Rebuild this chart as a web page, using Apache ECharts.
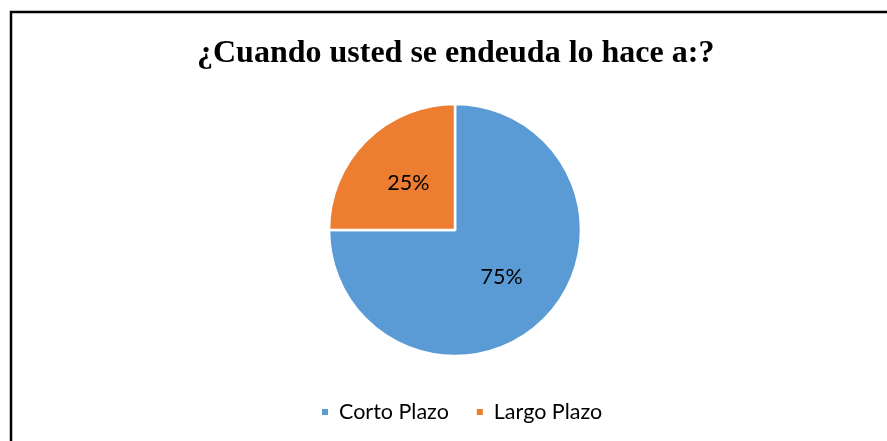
<!DOCTYPE html>
<html>
<head>
<meta charset="utf-8">
<script src="https://cdn.jsdelivr.net/npm/echarts@6/dist/echarts.min.js"></script>
<style>
html,body{margin:0;padding:0;background:#fff;}
#chart{width:887px;height:441px;}
</style>
</head>
<body>
<div id="chart"></div>
<script>
// datos
var categories = ['Corto Plazo', 'Largo Plazo'];
var values = [75, 25];
var colors = ['#5B9BD5', '#ED7D31'];

var pieData = categories.map(function (c, i) {
    return {name: c, value: values[i], itemStyle: {color: colors[i]}};
});

var myChart = echarts.init(document.getElementById('chart'));
var option = {
    backgroundColor: '#fff',
    animation: false,
    title: {
        text: '¿Cuando usted se endeuda lo hace a:?',
        left: 192,
        top: 33,
        textStyle: {
            fontFamily: 'Liberation Serif',
            fontWeight: 'bold',
            fontSize: 32,
            color: '#000'
        }
    },
    graphic: [{
        type: 'rect',
        shape: {x: 11, y: 12, width: 1200, height: 800},
        style: {fill: 'none', stroke: '#000', lineWidth: 2.5},
        silent: true
    }],
    legend: {
        top: 396,
        left: 315,
        itemWidth: 8,
        itemHeight: 8,
        itemGap: 26,
        icon: 'rect',
        data: categories,
        textStyle: {
            fontFamily: 'Lato',
            fontSize: 21.5,
            color: '#000',
            padding: [0, 0, 0, 5]
        }
    },
    series: [{
        type: 'pie',
        center: [455, 230],
        radius: [0, 126],
        startAngle: 90,
        clockwise: true,
        data: pieData,
        itemStyle: {borderColor: '#fff', borderWidth: 2.5},
        label: {
            position: 'inside',
            formatter: '{d}%',
            fontFamily: 'Lato',
            fontSize: 21.5,
            color: '#000'
        },
        labelLine: {show: false}
    }]
};
myChart.setOption(option);
</script>
</body>
</html>
